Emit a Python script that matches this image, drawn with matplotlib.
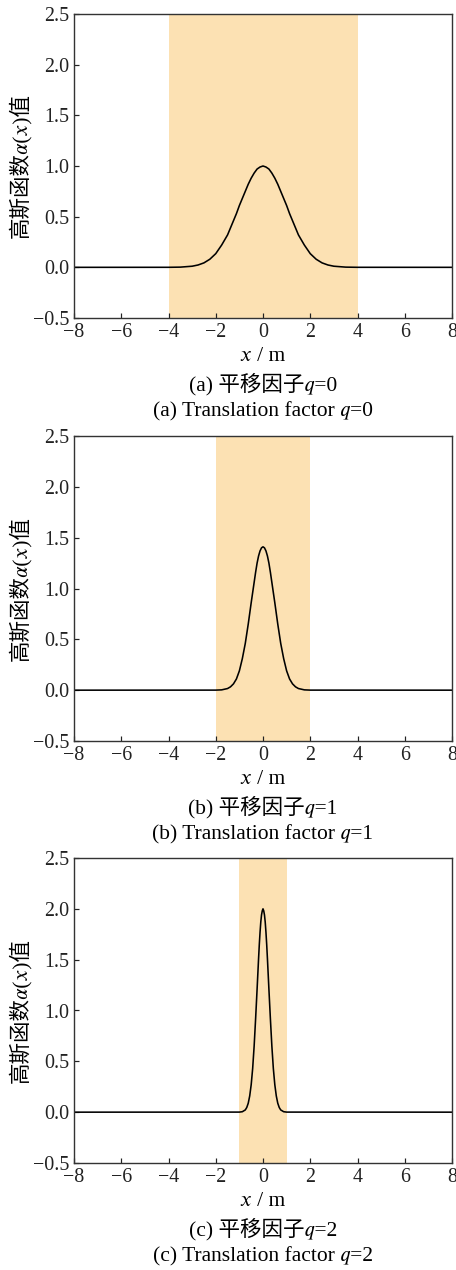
import matplotlib
matplotlib.use('Agg')
import matplotlib.pyplot as plt

# Fonts: Times-like serif for latin, CJK + math italic fallback
fam = ['Liberation Serif', 'Noto Sans CJK SC', 'STIXGeneral', 'DejaVu Serif']
plt.rcParams['font.family'] = fam

# Giá trị (x, a(x)) cho từng q
x_q0 = [-8, -4, -3.5, -3, -2.75, -2.5, -2.25, -2, -1.75, -1.5, -1.375, -1.25, -1.125, -1, -0.875, -0.75,
        -0.625, -0.5, -0.375, -0.25, -0.125, 0,
        0.125, 0.25, 0.375, 0.5, 0.625, 0.75, 0.875, 1, 1.125, 1.25, 1.375, 1.5, 1.75, 2, 2.25, 2.5,
        2.75, 3, 3.5, 4, 8]
y_q0 = [0, 0.0003, 0.002, 0.011, 0.023, 0.044, 0.08, 0.135, 0.22, 0.32, 0.39, 0.46, 0.53, 0.61, 0.68, 0.75,
        0.82, 0.88, 0.93, 0.97, 0.99, 1.0,
        0.99, 0.97, 0.93, 0.88, 0.82, 0.75, 0.68, 0.61, 0.53, 0.46, 0.39, 0.32, 0.22, 0.135, 0.08, 0.044,
        0.023, 0.011, 0.002, 0.0003, 0]

x_q1 = [-8, -2, -1.75, -1.5, -1.375, -1.25, -1.125, -1, -0.875, -0.75, -0.625, -0.5, -0.4375, -0.375,
        -0.3125, -0.25, -0.1875, -0.125, -0.0625, 0,
        0.0625, 0.125, 0.1875, 0.25, 0.3125, 0.375, 0.4375, 0.5, 0.625, 0.75, 0.875, 1, 1.125, 1.25,
        1.375, 1.5, 1.75, 2, 8]
y_q1 = [0, 0.0005, 0.003, 0.016, 0.033, 0.062, 0.11, 0.19, 0.31, 0.46, 0.65, 0.86, 0.96, 1.06,
        1.16, 1.25, 1.32, 1.37, 1.40, 1.41,
        1.40, 1.37, 1.32, 1.25, 1.16, 1.06, 0.96, 0.86, 0.65, 0.46, 0.31, 0.19, 0.11, 0.062,
        0.033, 0.016, 0.003, 0.0005, 0]

x_q2 = [-8, -1, -0.875, -0.75, -0.6875, -0.625, -0.5625, -0.5, -0.4375, -0.375, -0.3125, -0.25,
        -0.1875, -0.15625, -0.125, -0.09375, -0.0625, -0.03125, 0,
        0.03125, 0.0625, 0.09375, 0.125, 0.15625, 0.1875, 0.25, 0.3125, 0.375, 0.4375, 0.5, 0.5625,
        0.625, 0.6875, 0.75, 0.875, 1, 8]
y_q2 = [0, 0.0007, 0.0044, 0.022, 0.046, 0.088, 0.16, 0.27, 0.43, 0.65, 0.92, 1.21,
        1.51, 1.65, 1.77, 1.87, 1.94, 1.98, 2.0,
        1.98, 1.94, 1.87, 1.77, 1.65, 1.51, 1.21, 0.92, 0.65, 0.43, 0.27, 0.16,
        0.088, 0.046, 0.022, 0.0044, 0.0007, 0]

# Vùng tô (miền hỗ trợ)
band_q = [(-4, 4), (-2, 2), (-1, 1)]

ylabel = '高斯函数\U0001D6FC(\U0001D465)值'
xlabel = '\U0001D465 / m'
captions_cn = ['(a) 平移因子\U0001D45E=0', '(b) 平移因子\U0001D45E=1', '(c) 平移因子\U0001D45E=2']
captions_en = ['(a) Translation factor \U0001D45E=0', '(b) Translation factor \U0001D45E=1',
               '(c) Translation factor \U0001D45E=2']

xs = [x_q0, x_q1, x_q2]
ys = [y_q0, y_q1, y_q2]

W, H = 456, 1270
fig = plt.figure(figsize=(W / 72, H / 72), dpi=72)

# vị trí các trục theo pixel
panel_top = [14, 436, 858]
panel_bot = [318, 741, 1163]
left_px, right_px = 74, 452

tick_fs = 20
cap_fs = 21.5

for i in range(3):
    ax = fig.add_axes([left_px / W, 1 - panel_bot[i] / H,
                       (right_px - left_px) / W, (panel_bot[i] - panel_top[i]) / H])
    ax.axvspan(band_q[i][0], band_q[i][1], color='#FCE1B3', lw=0, zorder=0)
    ax.plot(xs[i], ys[i], color='black', lw=1.6, zorder=2)
    ax.set_xlim(-8, 8)
    ax.set_ylim(-0.5, 2.5)
    ax.set_xticks(range(-8, 9, 2))
    ax.set_yticks([-0.5, 0.0, 0.5, 1.0, 1.5, 2.0, 2.5])
    ax.set_yticklabels(['−0.5', '0.0', '0.5', '1.0', '1.5', '2.0', '2.5'])
    ax.tick_params(direction='in', length=5, width=1.2, labelsize=tick_fs,
                   top=False, right=False, colors='#222222')
    ax.tick_params(axis='x', pad=5)
    ax.tick_params(axis='y', pad=5)
    for s in ax.spines.values():
        s.set_linewidth(1.4)
        s.set_color('#333333')
    ax.set_ylabel(ylabel, fontsize=cap_fs, family=fam)
    ax.yaxis.set_label_coords(-0.112, 0.5)
    fig.text(263 / W, 1 - (panel_bot[i] + 38) / H, xlabel, ha='center', va='center',
             fontsize=cap_fs, family=fam)
    fig.text(263 / W, 1 - (panel_bot[i] + 66) / H, captions_cn[i], ha='center', va='center',
             fontsize=cap_fs, family=fam)
    fig.text(263 / W, 1 - (panel_bot[i] + 94) / H, captions_en[i], ha='center', va='center',
             fontsize=cap_fs, family=fam)

fig.savefig('out.png', dpi=72)
